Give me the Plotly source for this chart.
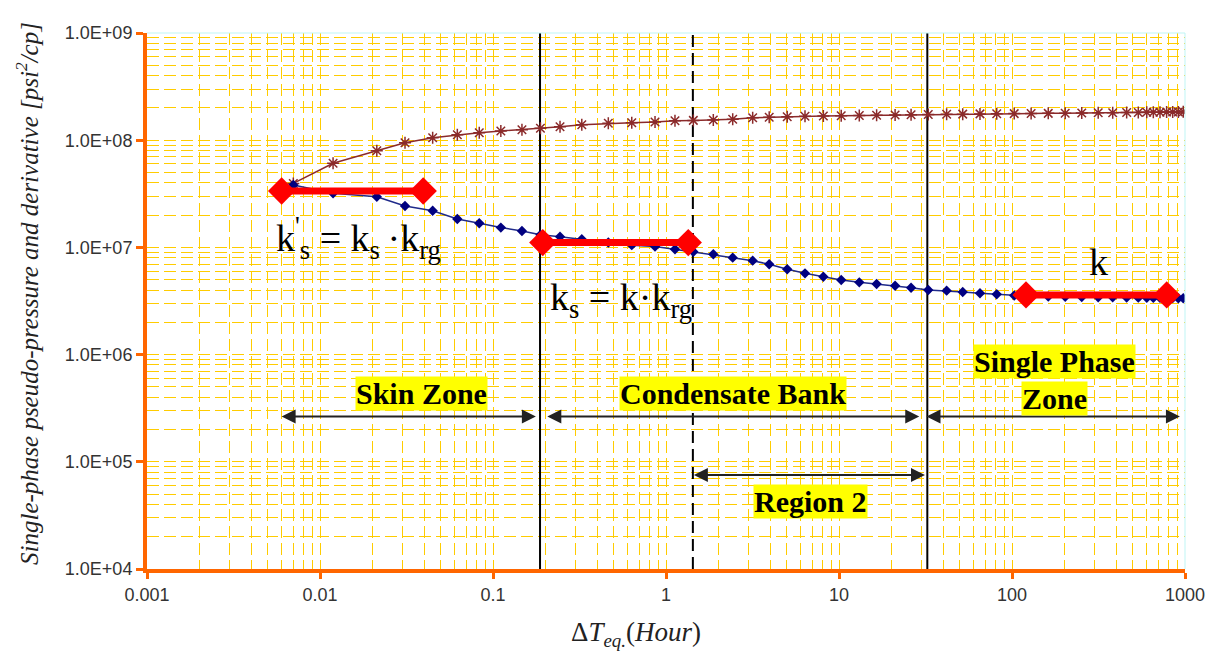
import math
import plotly.graph_objects as go

# Equivalent time (hours) shared by both curves
time_hr = [0.00701, 0.0119, 0.0213, 0.0310, 0.0448, 0.0622, 0.0833, 0.111, 0.147, 0.188,
           0.244, 0.326, 0.464, 0.634, 0.864, 1.127, 1.439, 1.877, 2.43, 3.17,
           3.95, 5.02, 6.36, 8.12, 10.3, 13.1, 16.5, 21.1, 26.1, 32.8,
           41.9, 51.9, 65.3, 81.6, 103, 129, 162, 203, 253, 315,
           382, 460, 537, 601, 656, 717, 783, 849, 915, 977]

# Single-phase pseudo-pressure change
pseudo_pressure = [3.95e7, 6.09e7, 7.98e7, 9.48e7, 1.055e8, 1.125e8, 1.175e8, 1.218e8, 1.253e8, 1.291e8,
                   1.336e8, 1.395e8, 1.438e8, 1.457e8, 1.478e8, 1.52e8, 1.53e8, 1.545e8, 1.567e8, 1.62e8,
                   1.64e8, 1.656e8, 1.67e8, 1.68e8, 1.69e8, 1.70e8, 1.71e8, 1.72e8, 1.73e8, 1.74e8,
                   1.745e8, 1.75e8, 1.76e8, 1.765e8, 1.77e8, 1.775e8, 1.78e8, 1.785e8, 1.79e8, 1.80e8,
                   1.805e8, 1.81e8, 1.815e8, 1.82e8, 1.82e8, 1.825e8, 1.83e8, 1.83e8, 1.835e8, 1.84e8]

# Pseudo-pressure derivative
derivative = [3.82e7, 3.2e7, 2.97e7, 2.43e7, 2.20e7, 1.84e7, 1.68e7, 1.53e7, 1.42e7, 1.31e7,
              1.26e7, 1.19e7, 1.11e7, 1.05e7, 1.02e7, 9.6e6, 9.1e6, 8.62e6, 8.02e6, 7.52e6,
              6.96e6, 6.25e6, 5.73e6, 5.33e6, 4.97e6, 4.72e6, 4.56e6, 4.39e6, 4.21e6, 4.01e6,
              3.95e6, 3.84e6, 3.73e6, 3.65e6, 3.56e6, 3.51e6, 3.48e6, 3.46e6, 3.44e6, 3.43e6,
              3.42e6, 3.41e6, 3.40e6, 3.39e6, 3.38e6, 3.38e6, 3.37e6, 3.37e6, 3.36e6, 3.36e6]

# Derivative stabilisation levels (start/end time, level)
plateau_x = [[0.0060, 0.0395], [0.194, 1.345], [120.5, 784]]
plateau_y = [3.36e7, 1.11e7, 3.6e6]

# Zone boundaries (hours)
zone_bounds_solid = [0.187, 32.4]
zone_bounds_dashed = [1.43]

# Zone spans for the double-headed arrows: (start, end, level)
zone_spans = [(0.00588, 0.177, 2.64e5), (0.202, 29.1, 2.64e5),
              (31.4, 935, 2.64e5), (1.42, 31.4, 7.53e4)]

x_tick_vals = [0.001, 0.01, 0.1, 1, 10, 100, 1000]
x_tick_text = ["0.001", "0.01", "0.1", "1", "10", "100", "1000"]
y_tick_vals = [1e4, 1e5, 1e6, 1e7, 1e8, 1e9]
y_tick_text = ["1.0E+04", "1.0E+05", "1.0E+06", "1.0E+07", "1.0E+08", "1.0E+09"]

Y_MIN, Y_MAX = 1e4, 1e9

AXIS_ORANGE = "#FF6600"
GRID_YELLOW = "#FFCC00"
SERIF = "Liberation Serif, Times New Roman, serif"
SANS = "Liberation Sans, Arial, sans-serif"

fig = go.Figure()

# Zone boundary lines
for xb in zone_bounds_solid:
    fig.add_trace(go.Scatter(x=[xb, xb], y=[Y_MIN, Y_MAX], mode="lines",
                             line=dict(color="black", width=2),
                             hoverinfo="skip", showlegend=False))
for xb in zone_bounds_dashed:
    fig.add_trace(go.Scatter(x=[xb, xb], y=[Y_MIN, Y_MAX], mode="lines",
                             line=dict(color="black", width=2, dash="12px,6px"),
                             hoverinfo="skip", showlegend=False))

# Pseudo-pressure curve
fig.add_trace(go.Scatter(x=time_hr, y=pseudo_pressure, mode="lines+markers",
                         line=dict(color="#8B2A2A", width=1.5),
                         marker=dict(symbol="asterisk-open", size=10,
                                     line=dict(color="#7A1010", width=1.5)),
                         showlegend=False))

# Derivative curve
fig.add_trace(go.Scatter(x=time_hr, y=derivative, mode="lines+markers",
                         line=dict(color="#1F2A8A", width=1.5),
                         marker=dict(symbol="diamond", size=8, color="#000080"),
                         showlegend=False))

# Plateau markers
for xs, yv in zip(plateau_x, plateau_y):
    fig.add_trace(go.Scatter(x=xs, y=[yv, yv], mode="lines+markers",
                             line=dict(color="#FF0000", width=7),
                             marker=dict(symbol="diamond", size=21, color="#FF0000"),
                             showlegend=False))

annotations = []

# Double-headed zone arrows
for x0, x1, yv in zone_spans:
    annotations.append(dict(x=math.log10(x1), y=math.log10(yv),
                            ax=math.log10(x0), ay=math.log10(yv),
                            xref="x", yref="y", axref="x", ayref="y",
                            text="", showarrow=True, arrowside="end+start",
                            arrowhead=2, arrowsize=1.4, arrowwidth=2,
                            arrowcolor="#222222", standoff=0, startstandoff=0))


def px_to_paper(px, py):
    return (px - 147) / 1038.0, (569 - py) / 536.0


def zone_label(text, px, py):
    xp, yp = px_to_paper(px, py)
    annotations.append(dict(x=xp, y=yp, xref="paper", yref="paper",
                            text="<b>" + text + "</b>", showarrow=False,
                            bgcolor="#FFFF00", borderpad=0,
                            font=dict(family=SERIF, size=30, color="black"),
                            xanchor="center", yanchor="middle"))


zone_label("Skin Zone", 421.5, 393.5)
zone_label("Condensate Bank", 733, 393.5)
zone_label("Single Phase", 1054, 361.5)
zone_label("Zone", 1054, 399)
zone_label("Region 2", 810, 501)


def math_label(text, px, py, size=38):
    xp, yp = px_to_paper(px, py)
    annotations.append(dict(x=xp, y=yp, xref="paper", yref="paper",
                            text=text, showarrow=False,
                            font=dict(family=SERIF, size=size, color="black"),
                            xanchor="center", yanchor="middle"))


math_label("k<sup>'</sup><sub>s</sub> = k<sub>s</sub>\u2009·k<sub>rg</sub>", 358, 238)
math_label("k<sub>s</sub> = k·k<sub>rg</sub>", 621, 300)
math_label("k", 1098, 262)

# Axis titles
xp, yp = px_to_paper(27, 294)
annotations.append(dict(x=xp, y=yp, xref="paper", yref="paper", textangle=-90,
                        text="<i>Single-phase pseudo-pressure and derivative [psi<sup>2</sup>/cp]</i>",
                        showarrow=False, font=dict(family=SERIF, size=25, color="#222222"),
                        xanchor="center", yanchor="middle"))
xp, yp = px_to_paper(636, 634)
annotations.append(dict(x=xp, y=yp, xref="paper", yref="paper",
                        text="Δ<i>T</i><sub><i>eq.</i></sub>(<i>Hour</i>)",
                        showarrow=False, font=dict(family=SERIF, size=27, color="#222222"),
                        xanchor="center", yanchor="middle"))

# Thin cyan frame on the top and right of the plot area
shapes = [
    dict(type="line", xref="paper", yref="paper", x0=0, x1=1, y0=1, y1=1,
         line=dict(color="#BFF5F5", width=1)),
    dict(type="line", xref="paper", yref="paper", x0=1, x1=1, y0=0, y1=1,
         line=dict(color="#BFF5F5", width=1)),
]

grid_common = dict(showgrid=True, gridcolor=GRID_YELLOW, gridwidth=1, griddash="12px,5px")

fig.update_layout(
    width=1207, height=657,
    margin=dict(l=147, r=22, t=33, b=88, autoexpand=False),
    paper_bgcolor="white", plot_bgcolor="white",
    annotations=annotations, shapes=shapes,
    xaxis=dict(type="log", range=[-3, 3], tickvals=x_tick_vals, ticktext=x_tick_text,
               automargin=False,
               showline=True, linecolor=AXIS_ORANGE, linewidth=4,
               ticks="outside", ticklen=6, tickwidth=3, tickcolor=AXIS_ORANGE,
               tickfont=dict(family=SANS, size=18, color="#333333"),
               zeroline=False,
               minor=dict(dtick="D1", ticks="", **grid_common),
               **grid_common),
    yaxis=dict(type="log", range=[4, 9], tickvals=y_tick_vals, ticktext=y_tick_text,
               automargin=False,
               showline=True, linecolor=AXIS_ORANGE, linewidth=4,
               ticks="outside", ticklen=7, tickwidth=3, tickcolor=AXIS_ORANGE,
               tickfont=dict(family=SANS, size=18, color="#333333"),
               zeroline=False,
               minor=dict(dtick="D1", ticks="", **grid_common),
               **grid_common),
)

fig.write_html("out.html")
